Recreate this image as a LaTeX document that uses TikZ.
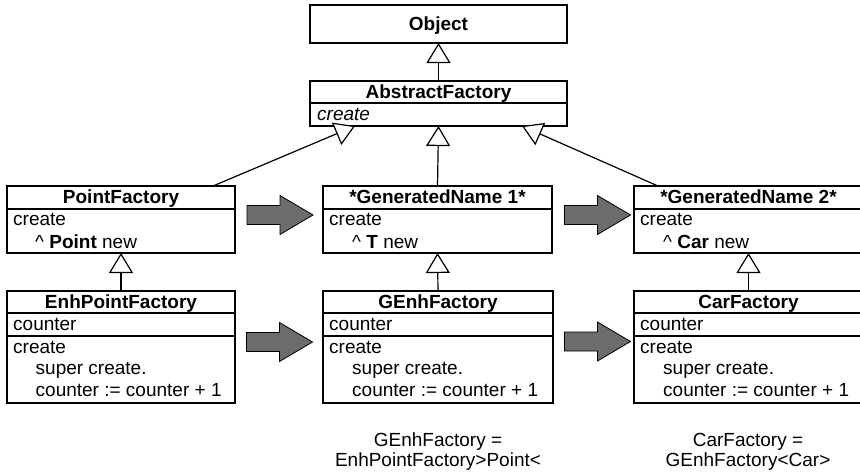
\documentclass[tikz,border=0pt]{standalone}
\usepackage{fontspec}
\setmainfont{Liberation Sans}
\usetikzlibrary{arrows.meta,calc}
\definecolor{arrowgray}{RGB}{108,108,108}
\begin{document}
\begin{tikzpicture}[x=1pt,y=-1pt,
  box/.style={draw,line width=1.3pt,inner sep=0pt,outer sep=0pt,anchor=north west},
  hdr/.style={anchor=base,font=\fontsize{19}{20}\selectfont\bfseries,inner sep=0pt},
  txt/.style={anchor=base west,font=\fontsize{19}{20}\selectfont,inner sep=0pt},
  lbl/.style={anchor=base,font=\fontsize{19}{20}\selectfont,inner sep=0pt},
  divline/.style={line width=1.3pt},
  inherit/.style={line width=1.2pt,-{Triangle[length=20pt,width=24pt,fill=white]}},
  bigarrow/.pic={\draw[line width=0.8pt,fill=arrowgray] (-33,-9.5) -- (0,-9.5) -- (0,-19.5) -- (33,0) -- (0,19.5) -- (0,9.5) -- (-33,9.5) -- cycle;}
]
\clip (0,0) rectangle (860,475);

% Object
\node[box,minimum width=257pt,minimum height=38pt] (obj) at (310,5) {};
\node[hdr] (objt) at (438.5,30) {Object};

% AbstractFactory
\node[box,minimum width=257pt,minimum height=45pt] (af) at (310,81) {};
\draw[divline] (310,103) -- (567,103);
\node[hdr] (aft) at (438.5,98.5) {AbstractFactory};
\node[txt,font=\fontsize{19}{20}\selectfont\itshape] (afc) at (317,120) {create};

% PointFactory
\node[box,minimum width=228pt,minimum height=67pt] (pf) at (7,186) {};
\draw[divline] (7,209) -- (235,209);
\node[hdr] (pft) at (121,203) {PointFactory};
\node[txt] (pfc) at (13,225.5) {create};
\node[txt] (pfn) at (35,248) {\textasciicircum\ \textbf{Point} new};

% GeneratedName 1
\node[box,minimum width=229pt,minimum height=67pt] (gn1) at (323,186) {};
\draw[divline] (323,209) -- (552,209);
\node[hdr] (gn1t) at (437.5,203) {*GeneratedName 1*};
\node[txt] (gn1c) at (329,225.5) {create};
\node[txt] (gn1n) at (352,248) {\textasciicircum\ \textbf{T} new};

% GeneratedName 2
\node[box,minimum width=229pt,minimum height=67pt] (gn2) at (634,186) {};
\draw[divline] (634,209) -- (863,209);
\node[hdr] (gn2t) at (748.5,203) {*GeneratedName 2*};
\node[txt] (gn2c) at (640,225.5) {create};
\node[txt] (gn2n) at (663,248) {\textasciicircum\ \textbf{Car} new};

% EnhPointFactory
\node[box,minimum width=228pt,minimum height=112pt] (ef) at (7,291) {};
\draw[divline] (7,313) -- (235,313);
\draw[divline] (7,336) -- (235,336);
\node[hdr] (eft) at (121,308) {EnhPointFactory};
\node[txt] (efa) at (13,330) {counter};
\node[txt] (efc) at (13,353) {create};
\node[txt] (efs) at (35.5,374.5) {super create.};
\node[txt] (efi) at (35.5,396.5) {counter := counter + 1};

% GEnhFactory
\node[box,minimum width=230pt,minimum height=112pt] (ge) at (323,291) {};
\draw[divline] (323,313) -- (553,313);
\draw[divline] (323,336) -- (553,336);
\node[hdr] (get) at (438,308) {GEnhFactory};
\node[txt] (gea) at (329,330) {counter};
\node[txt] (gec) at (329,353) {create};
\node[txt] (ges) at (352,374.5) {super create.};
\node[txt] (gei) at (352,396.5) {counter := counter + 1};

% CarFactory
\node[box,minimum width=229pt,minimum height=112pt] (cf) at (634,291) {};
\draw[divline] (634,313) -- (863,313);
\draw[divline] (634,336) -- (863,336);
\node[hdr] (cft) at (748.5,308) {CarFactory};
\node[txt] (cfa) at (640,330) {counter};
\node[txt] (cfc) at (640,353) {create};
\node[txt] (cfs) at (663,374.5) {super create.};
\node[txt] (cfi) at (663,396.5) {counter := counter + 1};

% Inheritance
\draw[inherit] (af.north) -- (obj.south);
\draw[inherit] ($(pf.north east)+(-22,0)$) -- ($(af.south west)+(45,0)$);
\draw[inherit] (gn1.north) -- (af.south);
\draw[inherit] ($(gn2.north west)+(24,0)$) -- ($(af.south east)+(-45,0)$);
\draw[inherit] (ef.north) -- (pf.south);
\draw[inherit] (ge.north) -- (gn1.south);
\draw[inherit] (cf.north) -- (gn2.south);

% Big arrows
\pic at (280,215) {bigarrow};
\pic at (597.5,215) {bigarrow};
\pic at (279.5,342) {bigarrow};
\pic at (597.5,341.5) {bigarrow};

% Bottom labels
\node[lbl] (l1a) at (438,446) {GEnhFactory =};
\node[lbl] (l1b) at (438,466) {EnhPointFactory>Point<};
\node[lbl] (l2a) at (748,446) {CarFactory =};
\node[lbl] (l2b) at (748,466) {GEnhFactory<Car>};
\end{tikzpicture}
\end{document}
